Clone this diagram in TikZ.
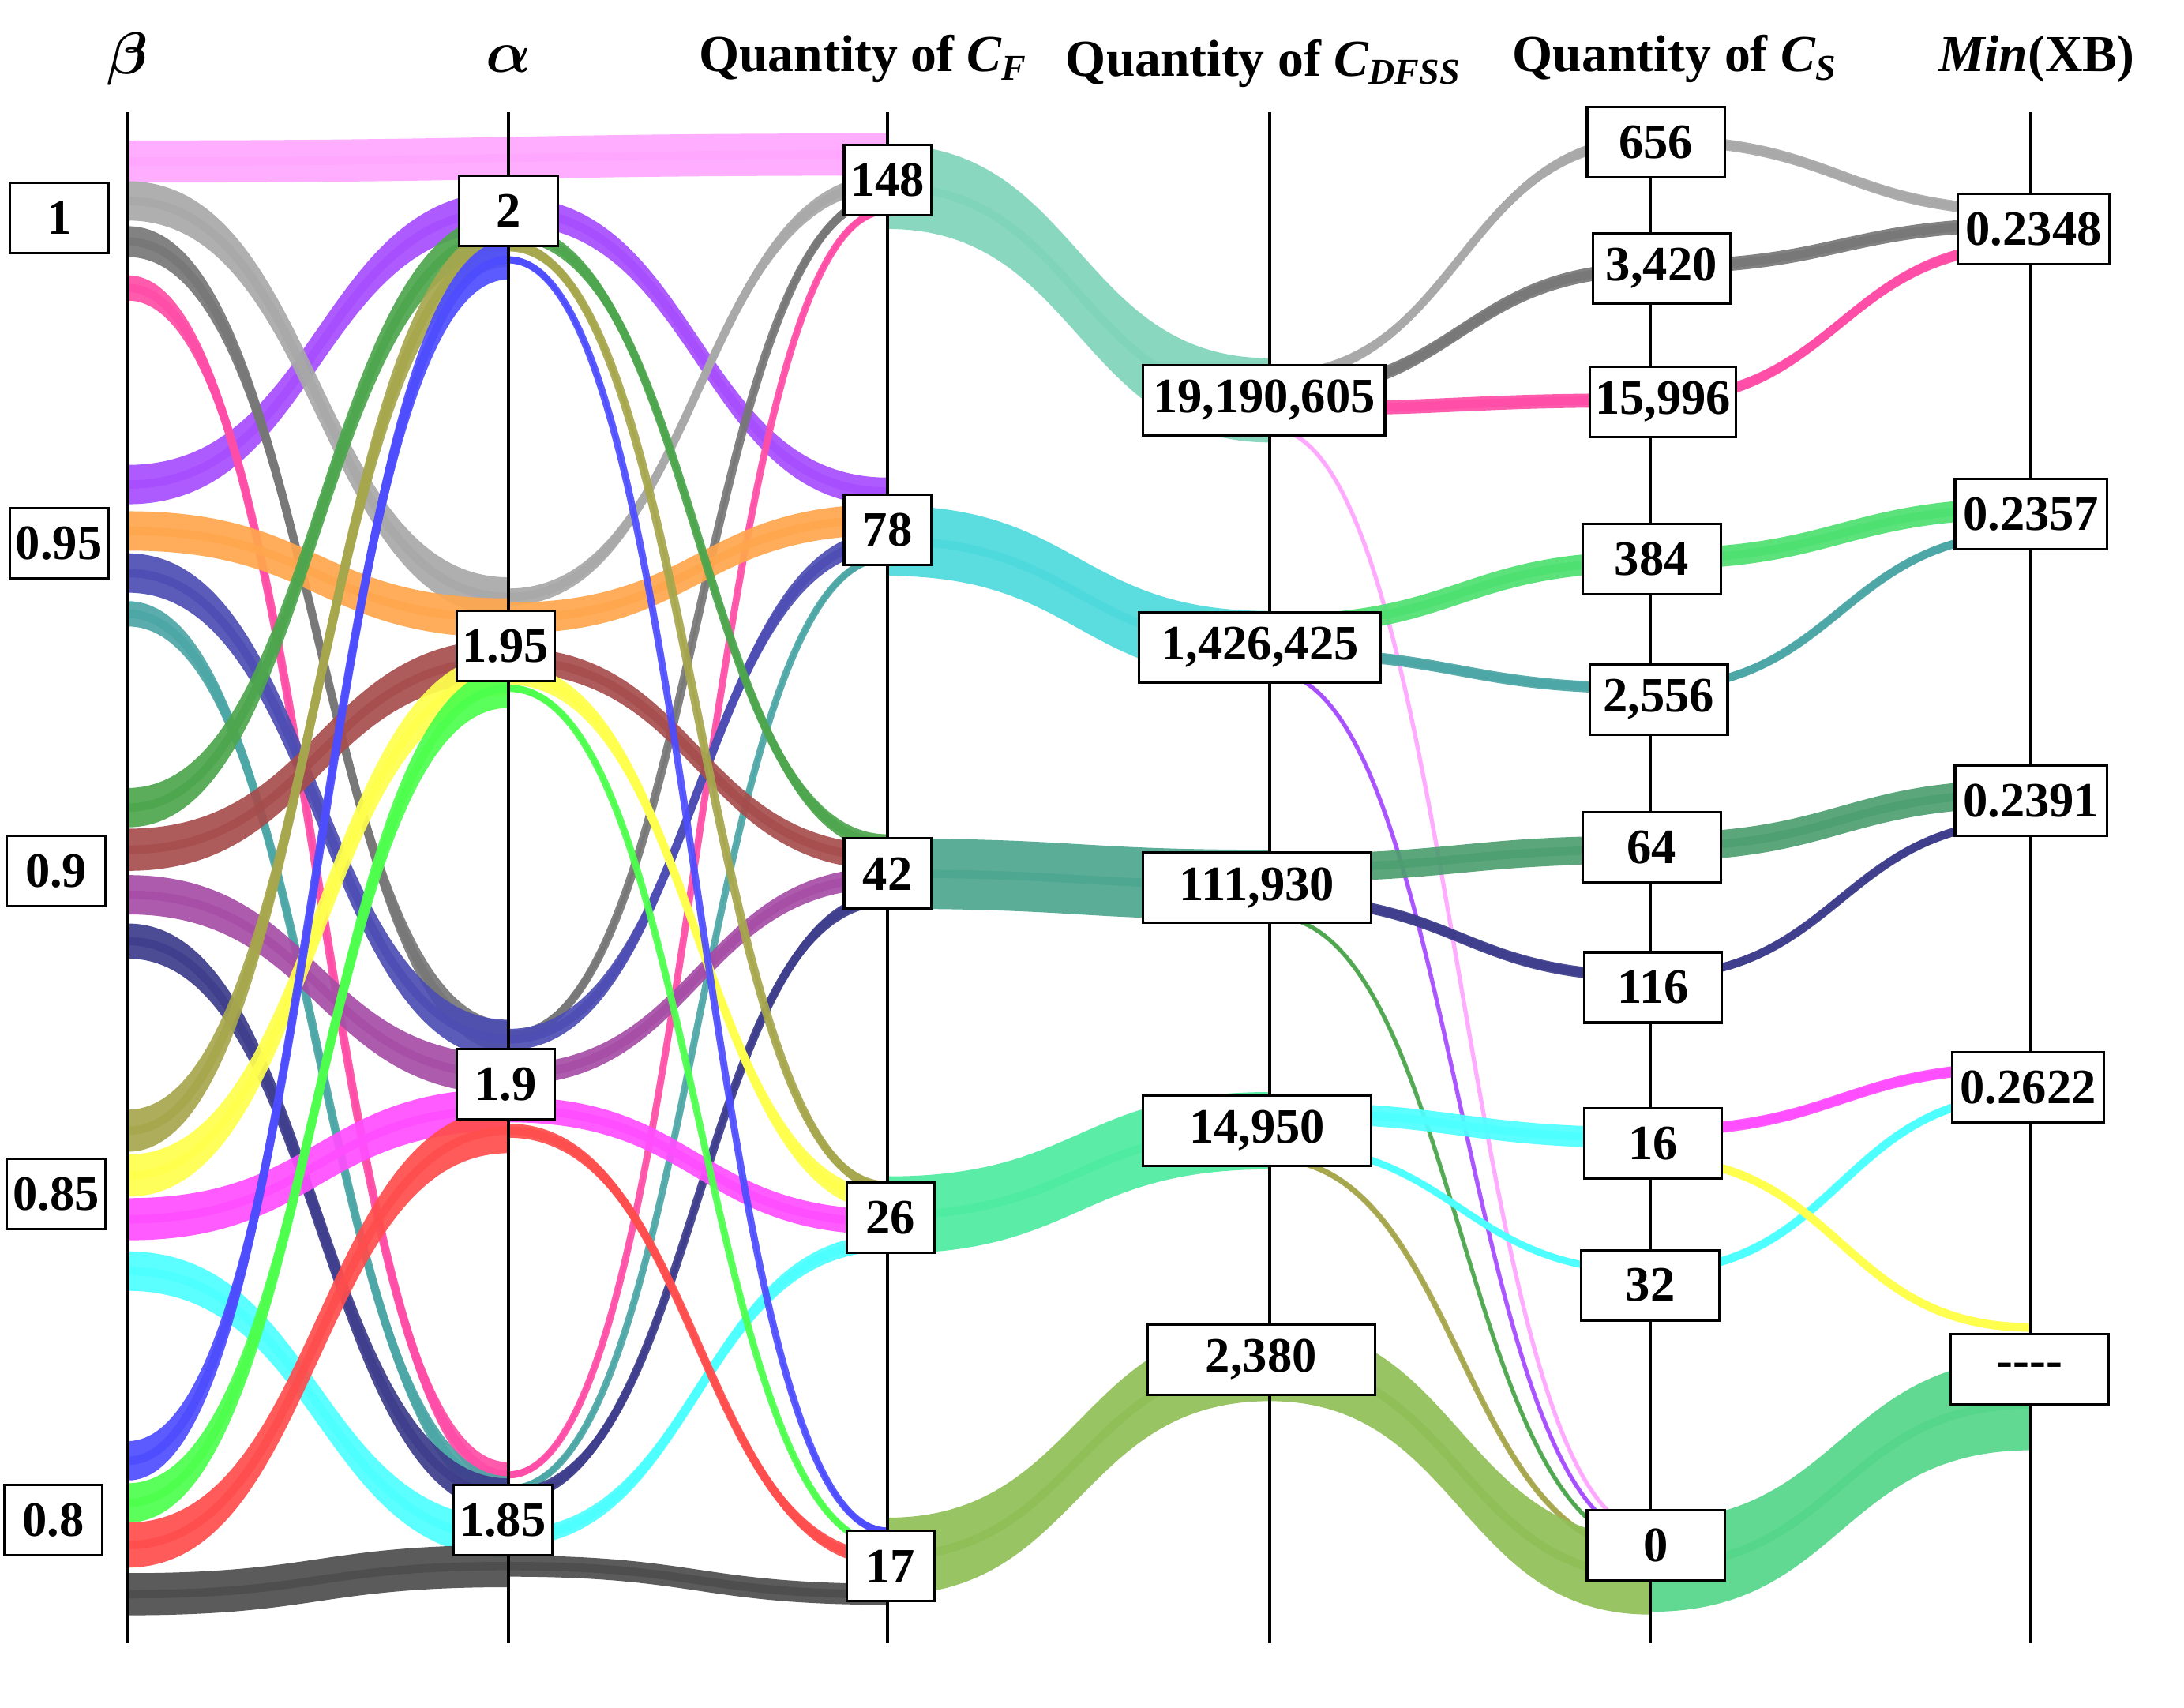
\documentclass[tikz,border=0pt]{standalone}
\usepackage{fontspec}
\usepackage{bm}
\setmainfont{Liberation Serif}
\definecolor{pinkL}{HTML}{FFA6FF}\definecolor{purp}{HTML}{A64DFF}\definecolor{grayL}{HTML}{A8A8A8}
\definecolor{grayD}{HTML}{777777}\definecolor{hotp}{HTML}{FF4DA6}\definecolor{oran}{HTML}{FFA64D}
\definecolor{dblue}{HTML}{4D4DB3}\definecolor{tealc}{HTML}{4DA6A6}\definecolor{dgreen}{HTML}{4DA64D}
\definecolor{brown}{HTML}{A64D4D}\definecolor{plum}{HTML}{A64DA6}\definecolor{navy}{HTML}{3D3D8C}
\definecolor{olivec}{HTML}{A6A64D}\definecolor{yell}{HTML}{FFFF4D}\definecolor{mag}{HTML}{FF4DFF}
\definecolor{cyanc}{HTML}{4DFFFF}\definecolor{bluec}{HTML}{4D4DFF}\definecolor{greenc}{HTML}{4DFF4D}
\definecolor{redc}{HTML}{FF4D4D}\definecolor{blk}{HTML}{4D4D4D}
\definecolor{fA}{HTML}{7FD4B8}\definecolor{fB}{HTML}{4DD9DC}\definecolor{fC}{HTML}{4DA68F}
\definecolor{fD}{HTML}{4DEBA0}\definecolor{fE}{HTML}{8FBF57}\definecolor{gA}{HTML}{4DE070}
\definecolor{gB}{HTML}{4D9E70}\definecolor{gC}{HTML}{55D68A}
\begin{document}
\begin{tikzpicture}[x=0.01cm,y=-0.01cm,
 bx/.style={draw,fill=white,line width=0.5pt,minimum height=0.5cm,inner sep=1pt,font=\fontsize{10}{11}\selectfont\bfseries},
 hd/.style={font=\fontsize{10.5}{12}\selectfont\bfseries,inner sep=0pt},
 ax/.style={line width=0.6pt}]
\useasboundingbox (0,0) rectangle (1555,1216);
\newcommand\rib[6]{\fill[#5,opacity=0.92] (#1,{#2-#6/2}) .. controls ({(#1+#3)/2},{#2-#6/2}) and ({(#1+#3)/2},{#4-#6/2}) .. (#3,{#4-#6/2}) -- (#3,{#4+#6/2}) .. controls ({(#1+#3)/2},{#4+#6/2}) and ({(#1+#3)/2},{#2+#6/2}) .. (#1,{#2+#6/2}) -- cycle;
\draw[#5,opacity=0.92,line width={min(#6,6)*0.1mm}] (#1,#2) .. controls ({(#1+#3)/2},#2) and ({(#1+#3)/2},#4) .. (#3,#4);}
% beta -> alpha -> CF
\rib{91}{115}{632}{110}{pinkL}{30}
\rib{91}{345}{362}{150}{purp}{28}\rib{362}{150}{632}{350}{purp}{20}
\rib{91}{143}{362}{425}{grayL}{28}\rib{362}{425}{632}{130}{grayL}{12}
\rib{91}{172}{362}{738}{grayD}{22}\rib{362}{738}{632}{140}{grayD}{8}
\rib{91}{205}{362}{1050}{hotp}{18}\rib{362}{1050}{632}{150}{hotp}{5}
\rib{91}{378}{362}{440}{oran}{28}\rib{362}{440}{632}{370}{oran}{22}
\rib{91}{408}{362}{740}{dblue}{28}\rib{362}{740}{632}{385}{dblue}{15}
\rib{91}{437}{362}{1060}{tealc}{18}\rib{362}{1060}{632}{397}{tealc}{5}
\rib{91}{575}{362}{165}{dgreen}{28}\rib{362}{165}{632}{600}{dgreen}{12}
\rib{91}{605}{362}{470}{brown}{30}\rib{362}{470}{632}{610}{brown}{18}
\rib{91}{637}{362}{765}{plum}{28}\rib{362}{765}{632}{625}{plum}{15}
\rib{91}{670}{362}{1065}{navy}{25}\rib{362}{1065}{632}{640}{navy}{10}
\rib{91}{805}{362}{175}{olivec}{30}\rib{362}{175}{632}{845}{olivec}{8}
\rib{91}{837}{362}{480}{yell}{30}\rib{362}{480}{632}{855}{yell}{15}
\rib{91}{868}{362}{790}{mag}{30}\rib{362}{790}{632}{870}{mag}{18}
\rib{91}{905}{362}{1095}{cyanc}{28}\rib{362}{1095}{632}{885}{cyanc}{12}
\rib{91}{1040}{362}{185}{bluec}{28}\rib{362}{185}{632}{1090}{bluec}{5}
\rib{91}{1070}{362}{490}{greenc}{28}\rib{362}{490}{632}{1100}{greenc}{5}
\rib{91}{1100}{362}{805}{redc}{32}\rib{362}{805}{632}{1110}{redc}{10}
\rib{91}{1135}{362}{1115}{blk}{30}\rib{362}{1115}{632}{1135}{blk}{15}
% CF -> CDFSS
\rib{632}{133}{904}{285}{fA}{60}
\rib{632}{385}{904}{460}{fB}{50}
\rib{632}{622}{904}{630}{fC}{50}
\rib{632}{865}{904}{805}{fD}{55}
\rib{632}{1108}{904}{970}{fE}{55}
% CDFSS -> CS
\rib{904}{268}{1175}{100}{grayL}{8}
\rib{904}{280}{1175}{192}{grayD}{10}
\rib{904}{291}{1175}{285}{hotp}{10}
\rib{904}{305}{1175}{1090}{pinkL}{3}
\rib{904}{445}{1175}{400}{gA}{15}
\rib{904}{465}{1175}{490}{tealc}{8}
\rib{904}{478}{1175}{1095}{purp}{3}
\rib{904}{618}{1175}{605}{gB}{20}
\rib{904}{640}{1175}{695}{navy}{8}
\rib{904}{652}{1175}{1100}{dgreen}{3}
\rib{904}{792}{1175}{810}{cyanc}{15}
\rib{904}{815}{1175}{905}{cyanc}{5}
\rib{904}{825}{1175}{1105}{olivec}{4}
\rib{904}{970}{1175}{1122}{fE}{55}
% CS -> Min
\rib{1175}{100}{1446}{150}{grayL}{8}
\rib{1175}{190}{1446}{160}{grayD}{10}
\rib{1175}{285}{1446}{175}{hotp}{8}
\rib{1175}{398}{1446}{362}{gA}{15}
\rib{1175}{490}{1446}{380}{tealc}{6}
\rib{1175}{603}{1446}{565}{gB}{20}
\rib{1175}{695}{1446}{585}{navy}{6}
\rib{1175}{805}{1446}{760}{mag}{8}
\rib{1175}{905}{1446}{780}{cyanc}{6}
\rib{1175}{825}{1446}{945}{yell}{6}
\rib{1175}{1115}{1446}{1000}{gC}{65}
% axes
\foreach \x in {91,362,632,904,1175,1446} \draw[ax] (\x,80) -- (\x,1170);
% headers
\node[hd,font=\fontsize{13}{14}\selectfont] (h1) at (91,42) {$\bm{\beta}$};
\node[hd,font=\fontsize{13}{14}\selectfont] (h2) at (362,42) {$\bm{\alpha}$};
\node[hd] (h3) at (615,42) {Quantity of \textit{C}\textsubscript{\textit{F}}};
\node[hd] (h4) at (900,45) {Quantity of \textit{C}\textsubscript{\textit{DFSS}}};
\node[hd] (h5) at (1193,42) {Quantity of \textit{C}\textsubscript{\textit{S}}};
\node[hd] (h6) at (1450,42) {\textit{Min}(XB)};
% boxes
\foreach \n/\x/\y/\t in {b1/42/155/1,b2/42/387/0.95,b3/40/620/0.9,b4/40/850/0.85,b5/38/1082/0.8}
  \node[bx,minimum width=0.7cm] (\n) at (\x,\y) {\t};
\foreach \n/\x/\y/\t in {a1/362/150/2,a2/360/460/1.95,a3/360/772/1.9,a4/358/1082/1.85}
  \node[bx,minimum width=0.7cm] (\n) at (\x,\y) {\t};
\foreach \n/\x/\y/\t in {f1/632/128/148,f2/632/377/78,f3/632/622/42,f4/634/867/26,f5/634/1115/17}
  \node[bx,minimum width=0.62cm] (\n) at (\x,\y) {\t};
\node[bx,minimum width=1.72cm] (d1) at (900,285) {19,190,605};
\node[bx,minimum width=1.72cm] (d2) at (897,461) {1,426,425};
\node[bx,minimum width=1.62cm] (d3) at (895,632) {111,930};
\node[bx,minimum width=1.62cm] (d4) at (895,805) {14,950};
\node[bx,minimum width=1.62cm] (d5) at (898,968) {2,380};
\foreach \n/\x/\y/\t in {s1/1179/101/656,s2/1183/191/{3,420},s3/1184/286/{15,996},s4/1176/398/384,s5/1181/498/{2,556},s6/1176/603/64,s7/1177/703/116,s8/1177/814/16,s9/1175/915/32,s10/1179/1100/0}
  \node[bx,minimum width=0.98cm] (\n) at (\x,\y) {\t};
\foreach \n/\x/\y/\t in {m1/1448/163/0.2348,m2/1446/366/0.2357,m3/1446/570/0.2391,m4/1444/774/0.2622}
  \node[bx,minimum width=1.08cm] (\n) at (\x,\y) {\t};
\node[bx,minimum width=1.12cm] (m5) at (1445,975) {{-}{-}{-}{-}};
\end{tikzpicture}
\end{document}
